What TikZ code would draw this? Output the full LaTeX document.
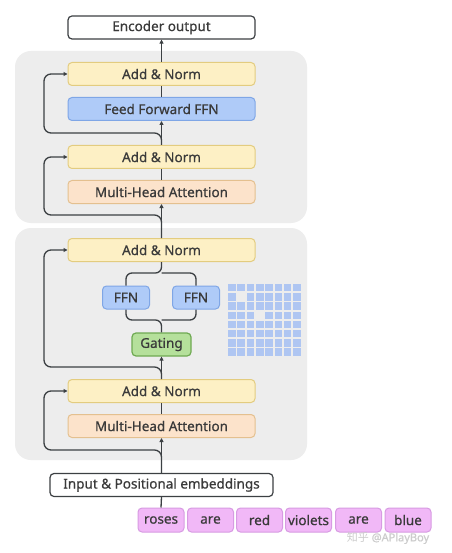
\documentclass[tikz,border=0pt]{standalone}
\usepackage{fontspec}
\setmainfont{Noto Sans}[FakeBold=0.6]
\newfontfamily\boxfont{Noto Sans}[FakeBold=0.6]
\newfontfamily\cjk{Noto Sans CJK SC}
\usetikzlibrary{arrows.meta}
\definecolor{panelgray}{HTML}{EDEDED}
\definecolor{normfill}{HTML}{FDF0C5}
\definecolor{normdraw}{HTML}{E3CC7F}
\definecolor{ffnfill}{HTML}{AFCBF8}
\definecolor{ffndraw}{HTML}{7FA6E6}
\definecolor{mhafill}{HTML}{FCE3CB}
\definecolor{mhadraw}{HTML}{E4C08F}
\definecolor{gatefill}{HTML}{B5E09B}
\definecolor{gatedraw}{HTML}{6FAA52}
\definecolor{tokfill}{HTML}{F1B8F7}
\definecolor{tokdraw}{HTML}{D79BE2}
\definecolor{linec}{HTML}{3C4043}
\definecolor{txt}{HTML}{3A3A3A}
\definecolor{gridblue}{HTML}{AFC6F2}
\tikzset{
  box/.style={draw, rounded corners=4pt, minimum width=187pt, minimum height=23pt,
    line width=1pt, inner sep=0pt, text=txt, font=\boxfont\fontsize{13.5}{15}\selectfont},
  normbox/.style={box, fill=normfill, draw=normdraw},
  ffnbox/.style={box, fill=ffnfill, draw=ffndraw},
  mhabox/.style={box, fill=mhafill, draw=mhadraw},
  whitebox/.style={box, fill=white, draw=linec, line width=1.2pt},
  smallffn/.style={box, fill=ffnfill, draw=ffndraw, minimum width=47pt},
  gatebox/.style={box, fill=gatefill, draw=gatedraw, minimum width=59pt, line width=1.2pt},
  tokbox/.style={box, fill=tokfill, draw=tokdraw, minimum width=46pt, minimum height=24pt},
  panel/.style={fill=panelgray, rounded corners=16pt},
  conn/.style={draw=linec, line width=1.3pt},
  arr/.style={conn, -{Triangle[length=4pt,width=4pt]}},
  skip/.style={conn, rounded corners=7pt, -{Triangle[length=4pt,width=4pt]}},
  brace/.style={conn, rounded corners=6pt},
}
\begin{document}
\begin{tikzpicture}[x=1pt,y=-1pt]
\useasboundingbox (0,0) rectangle (451,553);
\fill[white] (0,0) rectangle (451,553);
% panels
\fill[panel] (15,51) rectangle (307,223);
\fill[panel] (15,228) rectangle (307,460);
% nodes
\node[whitebox] (out) at (161.5,27.5) {Encoder output};
\node[normbox] (an1) at (161.5,74) {Add \& Norm};
\node[ffnbox] (ff) at (161.5,109) {Feed Forward FFN};
\node[normbox] (an2) at (161.5,157) {Add \& Norm};
\node[mhabox] (mha1) at (161.5,192) {Multi-Head Attention};
\node[normbox] (an3) at (161.5,250) {Add \& Norm};
\node[smallffn] (f1) at (126,297.5) {FFN};
\node[smallffn] (f2) at (196,297.5) {FFN};
\node[gatebox] (gate) at (161.5,344.5) {Gating};
\node[normbox] (an4) at (161.5,391) {Add \& Norm};
\node[mhabox] (mha2) at (161.5,426) {Multi-Head Attention};
\node[whitebox, minimum width=223pt] (inp) at (161.5,485) {Input \& Positional embeddings};
\node[tokbox] (t1) at (161,520) {roses};
\node[tokbox] (t2) at (210.5,520) {are};
\node[tokbox] (t3) at (259.5,520) {red};
\node[tokbox] (t4) at (308.5,520) {violets};
\node[tokbox] (t5) at (358.5,520) {are};
\node[tokbox] (t6) at (408,520) {blue};
\node[text=gray!40, font=\fontsize{11}{12}\selectfont, inner sep=0pt] (wm) at (388,538) {{\cjk 知乎} @APlayBoy};
% grid
\foreach \r in {0,...,7}{
  \foreach \c in {0,...,7}{
    \pgfmathtruncatemacro{\skipit}{(\r==1 && \c==1) || (\r==3 && \c==3)}
    \ifnum\skipit=0
      \fill[gridblue] (228+\c*9.3,284+\r*9.2) rectangle ++(7.6,7.4);
    \fi
  }
}
% main connectors
\draw[arr] (an1.north) -- (out.south);
\draw[conn] (ff.north) -- (an1.south);
\draw[arr] (an2.north) -- (ff.south);
\draw[conn] (mha1.north) -- (an2.south);
\draw[arr] (an3.north) -- (mha1.south);
\draw[arr] (an4.north) -- (gate.south);
\draw[conn] (mha2.north) -- (an4.south);
\draw[arr] (inp.north) -- (mha2.south);
\draw[conn] (t1.north) -- (inp.south);
% brace structure
\coordinate (gtop) at (161.5,320);
\coordinate (btop) at (161.5,273);
\draw[brace] (gate.north) -- (gtop) -| (f1.south);
\draw[brace] (gtop) -| (f2.south);
\draw[brace] (f1.north) |- (btop) -- (an3.south);
\draw[brace] (f2.north) |- (btop);
% skip connections
\draw[skip] (an2.north) -- (161.5,133) -- (44,133) |- (an1.west);
\draw[skip] (an3.north) -- (161.5,215) -- (44,215) |- (an2.west);
\draw[skip] (an4.north) -- (161.5,367) -- (44,367) |- (an3.west);
\draw[skip] (inp.north) -- (161.5,450) -- (44,450) |- (an4.west);
\end{tikzpicture}
\end{document}
